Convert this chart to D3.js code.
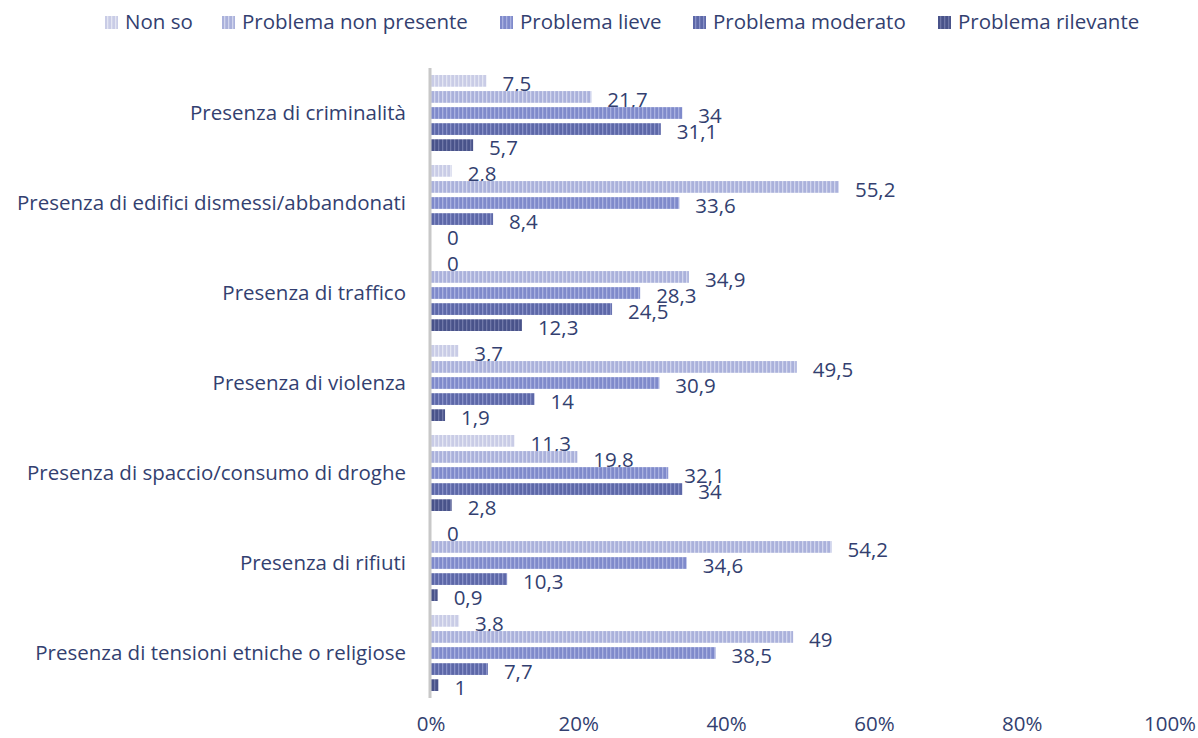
<!DOCTYPE html>
<html>
<head>
<meta charset="utf-8">
<script src="https://cdn.jsdelivr.net/npm/d3@7"></script>
<style>
  body { margin: 0; background: #fff; }
  text { font-family: "Open Sans", "Noto Sans", sans-serif; fill: #333f70; }
</style>
</head>
<body>
<div id="chart"></div>
<script>
const categories = [
  "Presenza di criminalità",
  "Presenza di edifici dismessi/abbandonati",
  "Presenza di traffico",
  "Presenza di violenza",
  "Presenza di spaccio/consumo di droghe",
  "Presenza di rifiuti",
  "Presenza di tensioni etniche o religiose"
];
const seriesNames = ["Non so", "Problema non presente", "Problema lieve", "Problema moderato", "Problema rilevante"];
const nonSo        = [7.5, 2.8, 0, 3.7, 11.3, 0, 3.8];
const nonPresente  = [21.7, 55.2, 34.9, 49.5, 19.8, 54.2, 49];
const lieve        = [34, 33.6, 28.3, 30.9, 32.1, 34.6, 38.5];
const moderato     = [31.1, 8.4, 24.5, 14, 34, 10.3, 7.7];
const rilevante    = [5.7, 0, 12.3, 1.9, 2.8, 0.9, 1];
const seriesValues = [nonSo, nonPresente, lieve, moderato, rilevante];
const xTicks = [0, 20, 40, 60, 80, 100];

const colors = ["#c9cce6", "#aab1db", "#7f8acb", "#5d68a8", "#49538a"];
const stripes = ["#e4e6f3", "#d2d6ee", "#a9b1e0", "#8891c8", "#7078a8"];

const width = 1198, height = 738;
const margin = { top: 68, right: 28, bottom: 40, left: 431 };
const fontSize = "20.5px";

const svg = d3.select("#chart").append("svg")
  .attr("width", width).attr("height", height);

const defs = svg.append("defs");
colors.forEach((c, i) => {
  const p = defs.append("pattern")
    .attr("id", "pat" + i)
    .attr("patternUnits", "userSpaceOnUse")
    .attr("width", 4).attr("height", 4);
  p.append("rect").attr("width", 4).attr("height", 4).attr("fill", c);
  p.append("rect").attr("x", 2).attr("width", 1.3).attr("height", 4).attr("fill", stripes[i]);
});

const x = d3.scaleLinear().domain([0, 100]).range([margin.left, 1170]);
const y0 = d3.scaleBand().domain(categories).range([margin.top, 698]);
const y1 = d3.scaleBand().domain(seriesNames).range([7, 83]).paddingInner(0.27);

// legend
const legendX = [105, 222, 500, 693, 938];
const legend = svg.append("g");
seriesNames.forEach((s, i) => {
  const g = legend.append("g").attr("transform", `translate(${legendX[i]},22)`);
  g.append("rect").attr("x", 0).attr("y", -6).attr("width", 13).attr("height", 13)
    .attr("fill", `url(#pat${i})`);
  g.append("text").attr("x", 20).attr("y", 0).attr("dy", "0.35em")
    .style("font-size", fontSize).text(s);
});

// category labels
svg.append("g").selectAll("text")
  .data(categories).enter().append("text")
  .attr("x", 406)
  .attr("y", d => y0(d) + y0.bandwidth() / 2)
  .attr("dy", "0.35em")
  .attr("text-anchor", "end")
  .style("font-size", fontSize)
  .text(d => d);

// bars
const groups = svg.append("g").selectAll("g")
  .data(categories).enter().append("g")
  .attr("transform", d => `translate(0,${y0(d)})`);

groups.each(function (cat, ci) {
  const g = d3.select(this);
  seriesNames.forEach((s, si) => {
    const v = seriesValues[si][ci];
    g.append("rect")
      .attr("x", x(0))
      .attr("y", y1(s))
      .attr("width", x(v) - x(0))
      .attr("height", y1.bandwidth())
      .attr("fill", `url(#pat${si})`);
    g.append("text")
      .attr("x", x(v) + 16)
      .attr("y", y1(s) + y1.bandwidth() / 2 + 3)
      .attr("dy", "0.35em")
      .style("font-size", fontSize)
      .text(String(v).replace(".", ","));
  });
});

// vertical axis line
svg.append("line")
  .attr("x1", x(0) - 1).attr("x2", x(0) - 1)
  .attr("y1", margin.top).attr("y2", 698)
  .attr("stroke", "#c8c8c8").attr("stroke-width", 3);

// x axis labels
svg.append("g").selectAll("text")
  .data(xTicks).enter().append("text")
  .attr("x", d => x(d))
  .attr("y", 724)
  .attr("dy", "0.35em")
  .attr("text-anchor", "middle")
  .style("font-size", fontSize)
  .text(d => d + "%");
</script>
</body>
</html>
